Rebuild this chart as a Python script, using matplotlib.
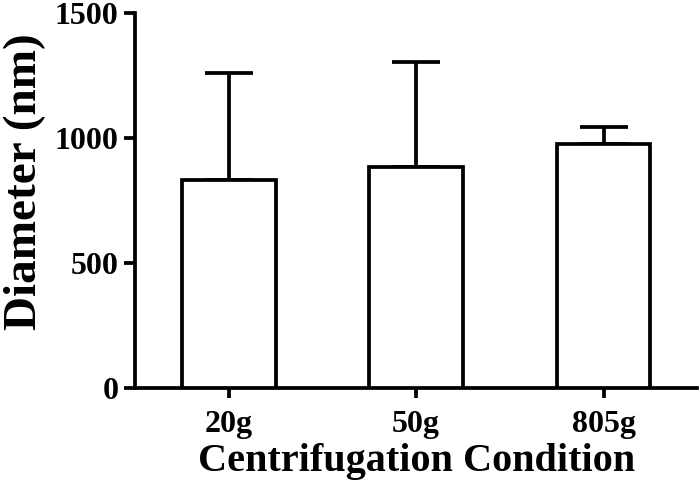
import numpy as np
import matplotlib.pyplot as plt

# datos
conditions = ['20g', '50g', '805g']
diameter = [832, 885, 978]
sd_upper = [428, 418, 68]

plt.rcParams['font.family'] = ['Liberation Serif', 'DejaVu Serif']
plt.rcParams['font.weight'] = 'bold'

fig = plt.figure(figsize=(7, 4.9), dpi=100)
ax = fig.add_axes([0.193, 0.208, 0.803, 0.765])

x = np.arange(len(conditions))
lw = 2.7
ax.bar(x, diameter, width=0.5, color='white', edgecolor='black', linewidth=lw, zorder=3)
ax.errorbar(x, diameter, yerr=[np.zeros(len(x)), sd_upper], fmt='none',
            ecolor='black', elinewidth=lw, capsize=17, capthick=lw, zorder=2)

ax.set_xlim(-0.5, 2.5)
ax.set_ylim(0, 1500)
ax.set_yticks([0, 500, 1000, 1500])
ax.set_xticks(x)
ax.set_xticklabels(conditions)

for s in ['top', 'right']:
    ax.spines[s].set_visible(False)
for s in ['left', 'bottom']:
    ax.spines[s].set_linewidth(lw)
ax.tick_params(width=lw, labelsize=23, direction='out')
ax.tick_params(axis='y', length=8, pad=4)
ax.tick_params(axis='x', length=7, pad=9)

ax.set_ylabel('Diameter (nm)', fontsize=34, fontweight='bold', labelpad=6, y=0.55)
ax.set_xlabel('Centrifugation Condition', fontsize=29, fontweight='bold', labelpad=3)

fig.savefig('out.png', dpi=100)
